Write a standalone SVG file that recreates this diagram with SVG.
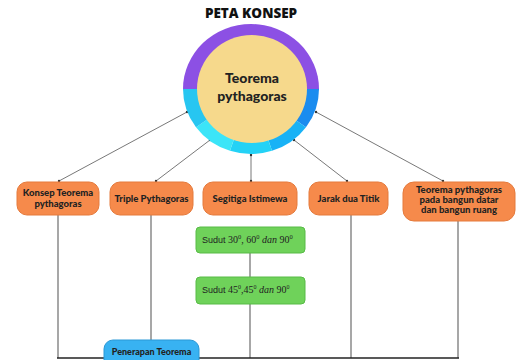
<svg xmlns="http://www.w3.org/2000/svg" width="518" height="360" viewBox="0 0 518 360">
<defs>
<style>
.lbl{font-family:Lato,"Open Sans","Liberation Sans",sans-serif;font-weight:900;font-size:9.5px;fill:#222;text-anchor:middle}
.or{fill:#f68a4b;stroke:#e57a3c;stroke-width:1}
.gr{fill:#6fd25a;stroke:#58bb46;stroke-width:1}
.thin{stroke:#555;stroke-width:0.8;fill:none;marker-start:url(#dot);marker-end:url(#dot)}
.vl{stroke:#8a8a8a;stroke-width:1.5;fill:none}
.gt{font-family:"Liberation Serif",serif;font-size:10px;fill:#222}
.gs{font-family:"Liberation Sans",sans-serif;font-size:9px}
</style>
<marker id="dot" markerWidth="4" markerHeight="4" refX="2" refY="2" markerUnits="userSpaceOnUse">
<circle cx="2" cy="2" r="1.2" fill="#333"/>
</marker>
</defs>
<rect width="518" height="360" fill="#fff"/>
<text x="251" y="18" style="font-family:'Open Sans','Liberation Sans',sans-serif;font-weight:800;font-size:13.5px;fill:#111;text-anchor:middle">PETA KONSEP</text>

<g id="connectors">
<line class="thin" x1="187" y1="112" x2="59" y2="181"/>
<line class="thin" x1="210" y1="140" x2="156" y2="181"/>
<line class="thin" x1="251" y1="155" x2="251" y2="181"/>
<line class="thin" x1="294" y1="140" x2="347" y2="181"/>
<line class="thin" x1="316" y1="112" x2="443" y2="181"/>
<line class="vl" x1="250" y1="253" x2="250" y2="277"/>
<line class="vl" x1="250" y1="304" x2="250" y2="358"/>
<line class="vl" x1="58" y1="215" x2="58" y2="358"/>
<line class="vl" x1="151" y1="215" x2="151" y2="341"/>
<line class="vl" x1="351" y1="215" x2="351" y2="358"/>
<line class="vl" x1="458" y1="221" x2="458" y2="358"/>
<line x1="57" y1="358" x2="459" y2="358" stroke="#222" stroke-width="1.6"/>
</g>

<g id="center">
<path d="M251,89 L183,89 A68,65 0 0 1 319,89 Z" fill="#8c50e4"/>
<path d="M251,89 L319,89 A68,65 0 0 1 306,127.2 Z" fill="#1a8cef"/>
<path d="M251,89 L306,127.2 A68,65 0 0 1 272,150.8 Z" fill="#19b2f6"/>
<path d="M251,89 L272,150.8 A68,65 0 0 1 230,150.8 Z" fill="#24d2f6"/>
<path d="M251,89 L230,150.8 A68,65 0 0 1 196,127.2 Z" fill="#3be5f8"/>
<path d="M251,89 L196,127.2 A68,65 0 0 1 183,89 Z" fill="#27c6f1"/>
<ellipse cx="252" cy="89" rx="55" ry="54" fill="#f6d98c"/>
<text style="font-family:Lato,'Open Sans','Liberation Sans',sans-serif;font-weight:900;font-size:14px;fill:#222;text-anchor:middle"><tspan x="252" y="83">Teorema</tspan><tspan x="252" y="100.5">pythagoras</tspan></text>
</g>

<g id="n1">
<rect class="or" x="17" y="182" width="82" height="33" rx="10"/>
<text class="lbl"><tspan x="58" y="196">Konsep Teorema</tspan><tspan x="58" y="207">pythagoras</tspan></text>
</g>
<g id="n2">
<rect class="or" x="110" y="182" width="83" height="33" rx="10"/>
<text class="lbl" x="151.5" y="202">Triple Pythagoras</text>
</g>
<g id="n3">
<rect class="or" x="203" y="182" width="94" height="33" rx="10"/>
<text class="lbl" x="250" y="202">Segitiga Istimewa</text>
</g>
<g id="n4">
<rect class="or" x="309" y="182" width="79" height="33" rx="10"/>
<text class="lbl" x="348.5" y="202">Jarak dua Titik</text>
</g>
<g id="n5">
<rect class="or" x="403" y="182" width="112" height="39" rx="11"/>
<text class="lbl"><tspan x="459" y="193">Teorema pythagoras</tspan><tspan x="459" y="203">pada bangun datar</tspan><tspan x="459" y="213">dan bangun ruang</tspan></text>
</g>

<g id="g1">
<rect class="gr" x="196" y="227" width="109" height="26" rx="4"/>
<text class="gt" x="202" y="243"><tspan class="gs">Sudut </tspan>30<tspan font-size="6.5" dy="-4">0</tspan><tspan dy="4">, 60</tspan><tspan font-size="6.5" dy="-4">0</tspan><tspan dy="4" font-style="italic"> dan </tspan>90<tspan font-size="6.5" dy="-4">0</tspan></text>
</g>
<g id="g2">
<rect class="gr" x="196" y="277" width="109" height="27" rx="4"/>
<text class="gt" x="202" y="293" font-size="9.5"><tspan class="gs" font-size="8.5">Sudut </tspan>45<tspan font-size="6" dy="-4">0</tspan><tspan dy="4">,45</tspan><tspan font-size="6" dy="-4">0</tspan><tspan dy="4" font-style="italic"> dan </tspan>90<tspan font-size="6" dy="-4">0</tspan></text>
</g>

<g id="n6">
<rect x="104" y="340" width="95" height="36" rx="9" fill="#38b2f2" stroke="#2a98d6" stroke-width="1"/>
<text class="lbl" x="151.5" y="355" style="font-size:9px">Penerapan Teorema</text>
</g>
</svg>
